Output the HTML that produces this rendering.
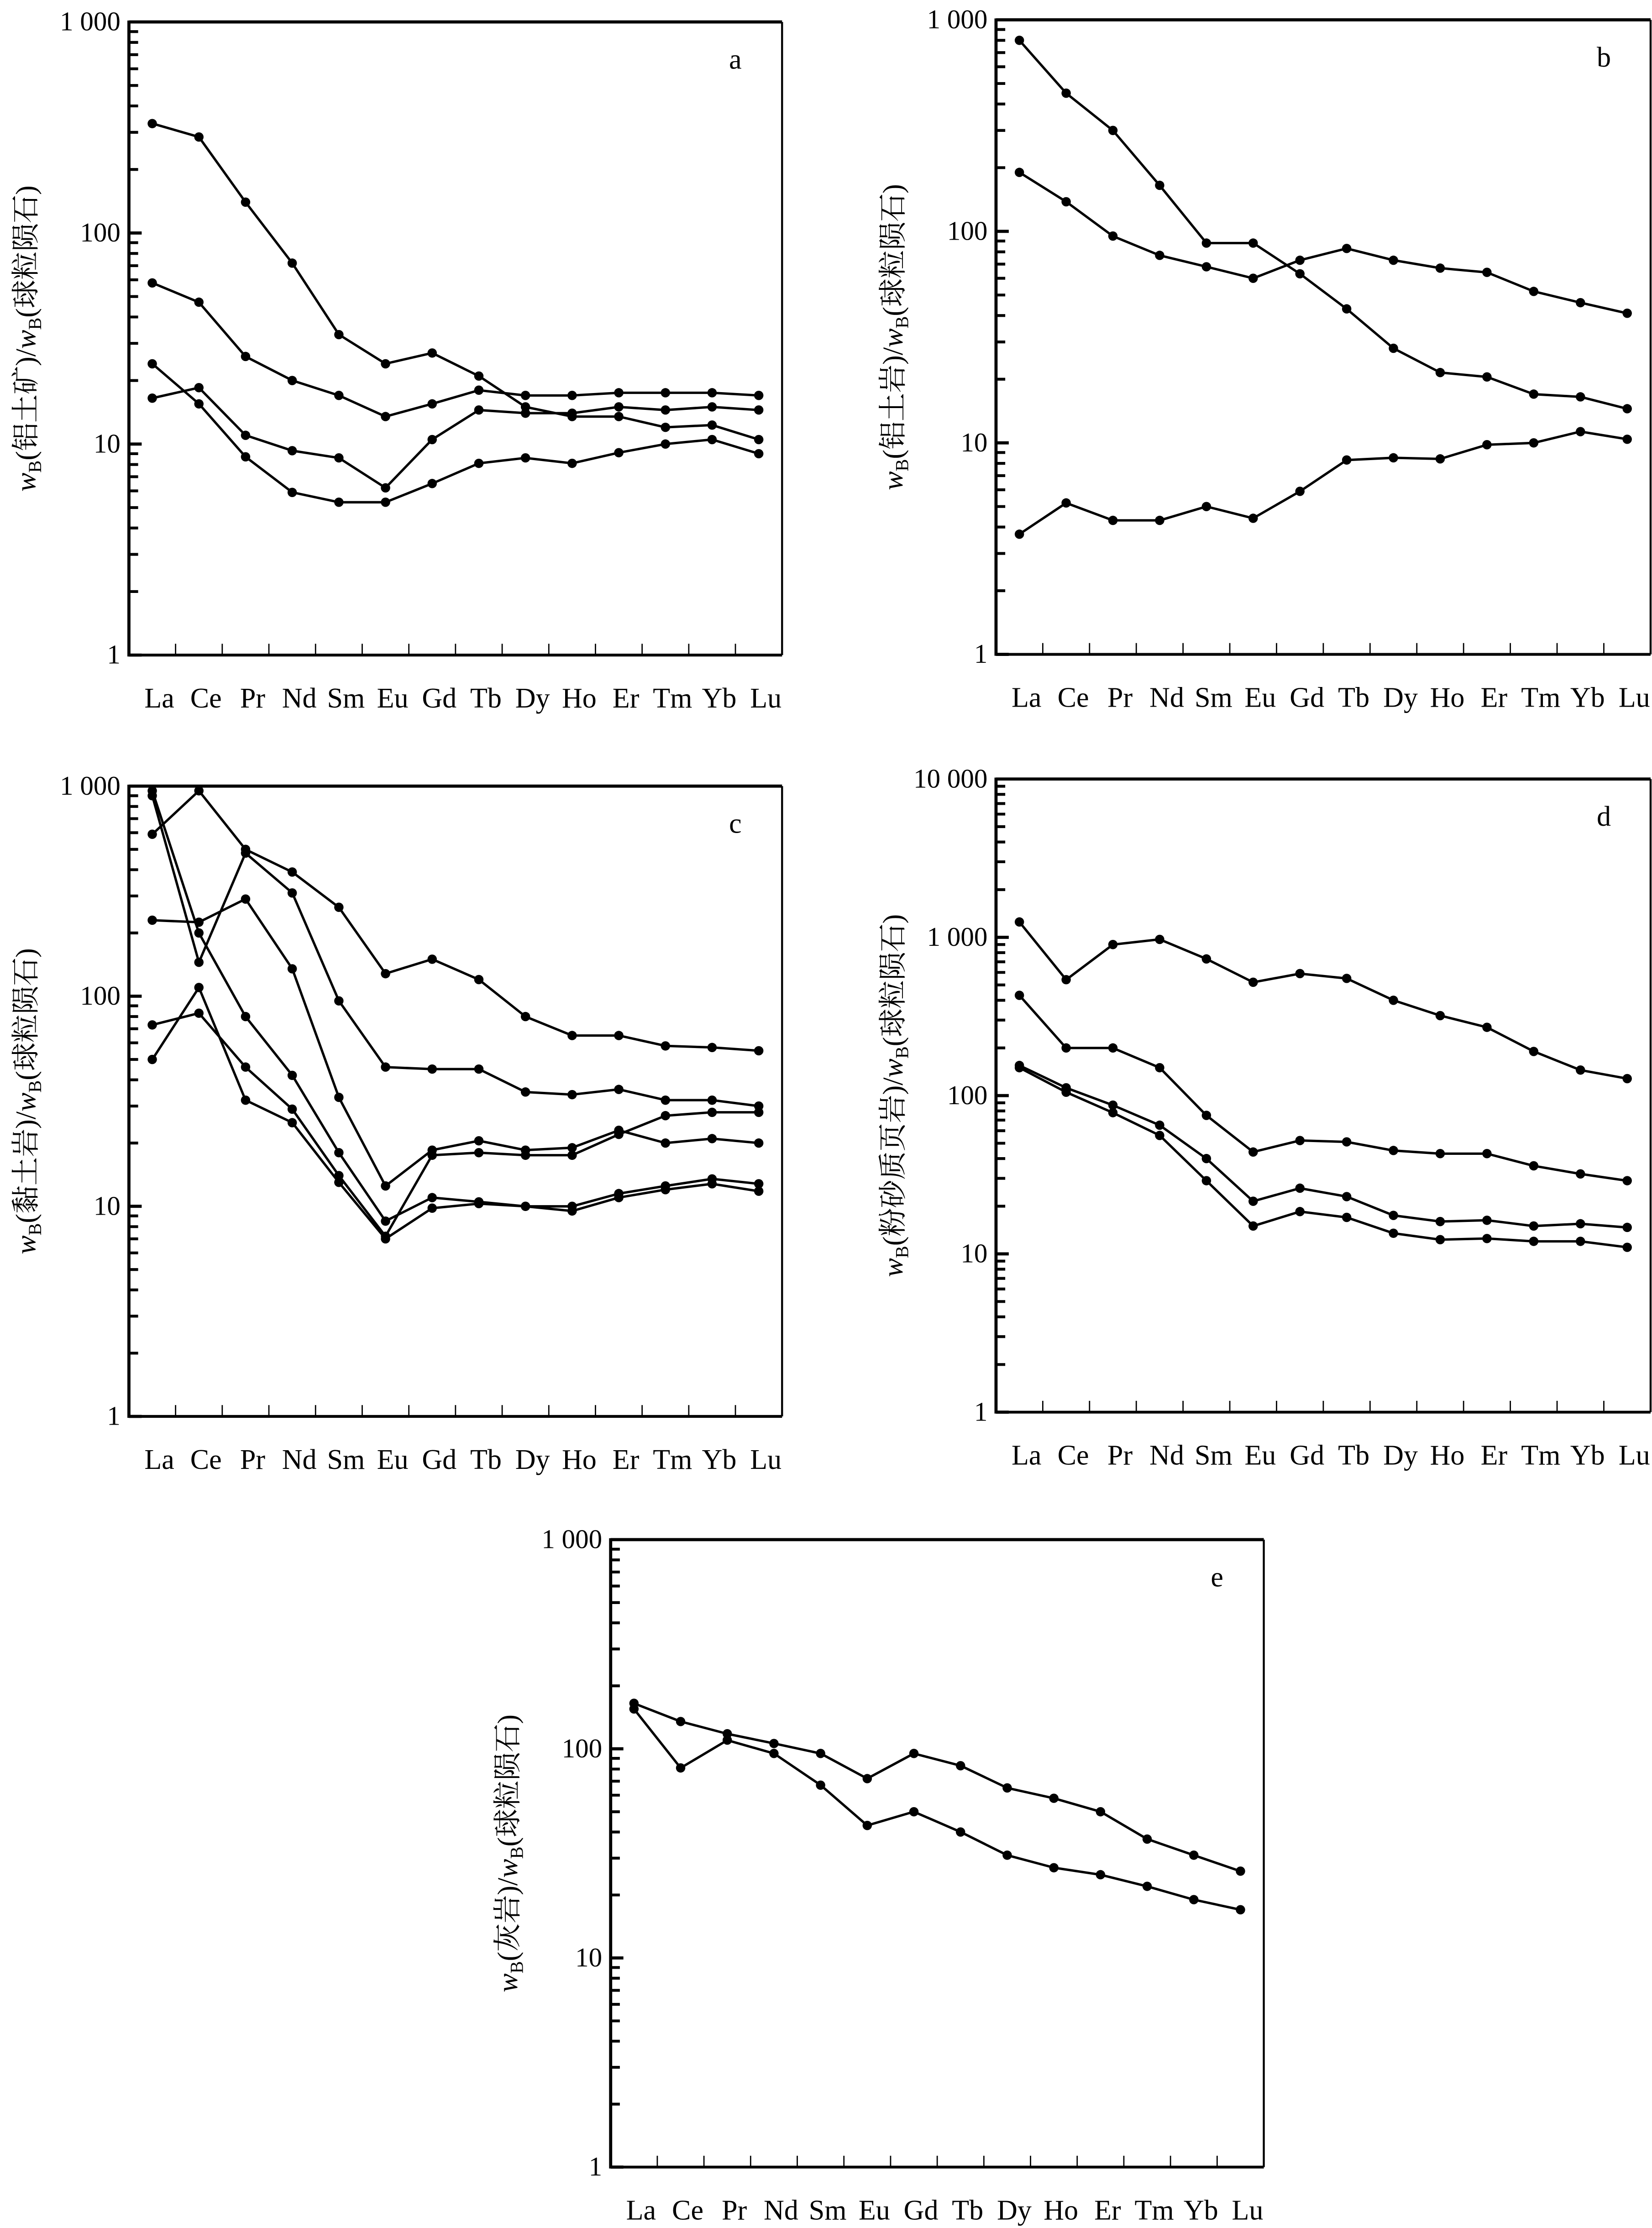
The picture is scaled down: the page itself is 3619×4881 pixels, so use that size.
<!DOCTYPE html>
<html><head><meta charset="utf-8"><style>
html,body{margin:0;padding:0;background:#fff}
svg{display:block}
text{font-family:"Liberation Serif","Noto Serif CJK SC",serif;fill:#000}
</style></head><body>
<svg id="fig" width="3619" height="4881" viewBox="0 0 1166 1573" preserveAspectRatio="none" xmlns="http://www.w3.org/2000/svg"></svg>
<script>
const categories=["La","Ce","Pr","Nd","Sm","Eu","Gd","Tb","Dy","Ho","Er","Tm","Yb","Lu"];
const seriesA1=[330,285,140,72,33,24,27,21,15,13.5,13.5,12,12.3,10.5];
const seriesA2=[58,47,26,20,17,13.5,15.5,18,17,17,17.5,17.5,17.5,17];
const seriesA3=[24,15.5,8.7,5.9,5.3,5.3,6.5,8.1,8.6,8.1,9.1,10,10.5,9];
const seriesA4=[16.5,18.5,11,9.3,8.6,6.2,10.5,14.5,14,14,15,14.5,15,14.5];
const seriesB1=[800,450,300,165,88,88,63,43,28,21.5,20.5,17,16.5,14.5];
const seriesB2=[190,138,95,77,68,60,73,83,73,67,64,52,46,41];
const seriesB3=[3.7,5.2,4.3,4.3,5,4.4,5.9,8.3,8.5,8.4,9.8,10,11.3,10.4];
const seriesC1=[590,950,500,390,265,128,150,120,80,65,65,58,57,55];
const seriesC2=[950,200,80,42,18,8.5,11,10.5,10,10,11.5,12.5,13.5,12.8];
const seriesC3=[900,145,480,310,95,46,45,45,35,34,36,32,32,30];
const seriesC4=[230,225,290,135,33,12.5,18.5,20.5,18.5,19,23,20,21,20];
const seriesC5=[73,83,46,29,14,7.2,17.5,18,17.5,17.5,22,27,28,28];
const seriesC6=[50,110,32,25,13,7,9.8,10.3,10,9.5,11,12,12.8,11.8];
const seriesD1=[1250,540,900,970,730,520,590,550,400,320,270,190,145,128];
const seriesD2=[430,200,200,150,75,44,52,51,45,43,43,36,32,29];
const seriesD3=[155,112,87,65,40,21.5,26,23,17.5,16,16.3,15,15.5,14.7];
const seriesD4=[150,105,78,56,29,15,18.5,17,13.5,12.3,12.5,12,12,11];
const seriesE1=[165,135,118,106,95,72,95,83,65,58,50,37,31,26];
const seriesE2=[155,81,110,95,67,43,50,40,31,27,25,22,19,17];
const ticks3=["1","10","100","1 000"];
const ticks4=["1","10","100","1 000","10 000"];

const NS="http://www.w3.org/2000/svg";
const svg=document.getElementById('fig');
function mk(tag,attrs,parent){const e=document.createElementNS(NS,tag);for(const k in attrs)e.setAttribute(k,attrs[k]);(parent||svg).appendChild(e);return e;}

function panel(id,x0,x1,y0,y1,tickLabels,letter,labelMain,series){
  const g=mk('g',{});
  
  
  const dec=tickLabels.length-1;
  const ys=v=>y1-(Math.log10(v)/dec)*(y1-y0);
  const step=(x1-x0)/categories.length;
  const xs=i=>x0+step*(i+0.5);
  const top=mk('line',{x1:x0,y1:y0,x2:x1,y2:y0,stroke:'#000','stroke-width':2.2},g);
  
  
  const left=mk('line',{x1:x0,y1:y0-1,x2:x0,y2:y1+1,stroke:'#000','stroke-width':2.2},g);
  
  
  const right=mk('line',{x1:x1,y1:y0,x2:x1,y2:y1,stroke:'#000','stroke-width':1.4},g);
  
  
  const bot=mk('line',{x1:x0,y1:y1,x2:x1,y2:y1,stroke:'#000','stroke-width':2},g);
  
  
  for(let d=0;d<dec;d++){
    for(let m=1;m<=9;m++){
      const v=Math.pow(10,d)*m; const y=ys(v);
      const len=m===1?9:6.5;
      const t=mk('line',{x1:x0,y1:y,x2:x0+len,y2:y,stroke:'#000','stroke-width':m===1?2.2:2},g);
      
      
    }
  }
  tickLabels.forEach((lab,i)=>{
    const y=ys(Math.pow(10,i));
    const t=mk('text',{x:x0-6,y:y+6,'text-anchor':'end','font-size':19},g);
    t.textContent=lab;
    
    
  });
  for(let k=1;k<categories.length;k++){
    const x=x0+step*k;
    const t=mk('line',{x1:x,y1:y1,x2:x,y2:y1-8,stroke:'#000','stroke-width':0.9},g);
    
    
  }
  categories.forEach((c,i)=>{
    const t=mk('text',{x:xs(i)+5,y:y1+37,'text-anchor':'middle','font-size':20},g);
    t.textContent=c;
    
    
  });
  const lt=mk('text',{x:x1-33,y:y0+33,'text-anchor':'middle','font-size':20},g);
  lt.textContent=letter;
  
  
  const cy=(y0+y1)/2, cx=x0-66;
  const yt=mk('text',{x:cx,y:cy,'text-anchor':'middle','font-size':20,transform:`rotate(-90 ${cx} ${cy})`},g);
  
  
  const parts=[['w','italic',''],['B','','sub'],['('+labelMain+')/','',''],['w','italic',''],['B','','sub'],['(球粒陨石)','','']];
  parts.forEach((p,pi)=>{
    const ts=mk('tspan',{},yt);
    ts.textContent=p[0];
    if(p[1])ts.setAttribute('font-style','italic');
    if(p[2]==='sub'){ts.setAttribute('font-size',13);ts.setAttribute('dy',4);}
    else if(pi>0 && parts[pi-1][2]==='sub'){ts.setAttribute('dy',-4);}
  });
  series.forEach((s,si)=>{
    const pts=s.map((v,i)=>xs(i).toFixed(1)+','+ys(v).toFixed(1)).join(' ');
    const pl=mk('polyline',{points:pts,fill:'none',stroke:'#000','stroke-width':1.7,'stroke-linejoin':'round'},g);
    
    
    s.forEach((v,i)=>{
      const c=mk('circle',{cx:xs(i),cy:ys(v),r:3.3,fill:'#000'},g);
      
      
    });
  });
}
panel('a',91,552,15.5,462.5,ticks3,'a','铝土矿',[seriesA1,seriesA2,seriesA3,seriesA4]);
panel('b',703,1165,14,462,ticks3,'b','铝土岩',[seriesB1,seriesB2,seriesB3]);
panel('c',91,552,555,1000,ticks3,'c','黏土岩',[seriesC1,seriesC2,seriesC3,seriesC4,seriesC5,seriesC6]);
panel('d',703,1165,550,997,ticks4,'d','粉砂质页岩',[seriesD1,seriesD2,seriesD3,seriesD4]);
panel('e',431,892,1087,1530,ticks3,'e','灰岩',[seriesE1,seriesE2]);
</script>
</body></html>
